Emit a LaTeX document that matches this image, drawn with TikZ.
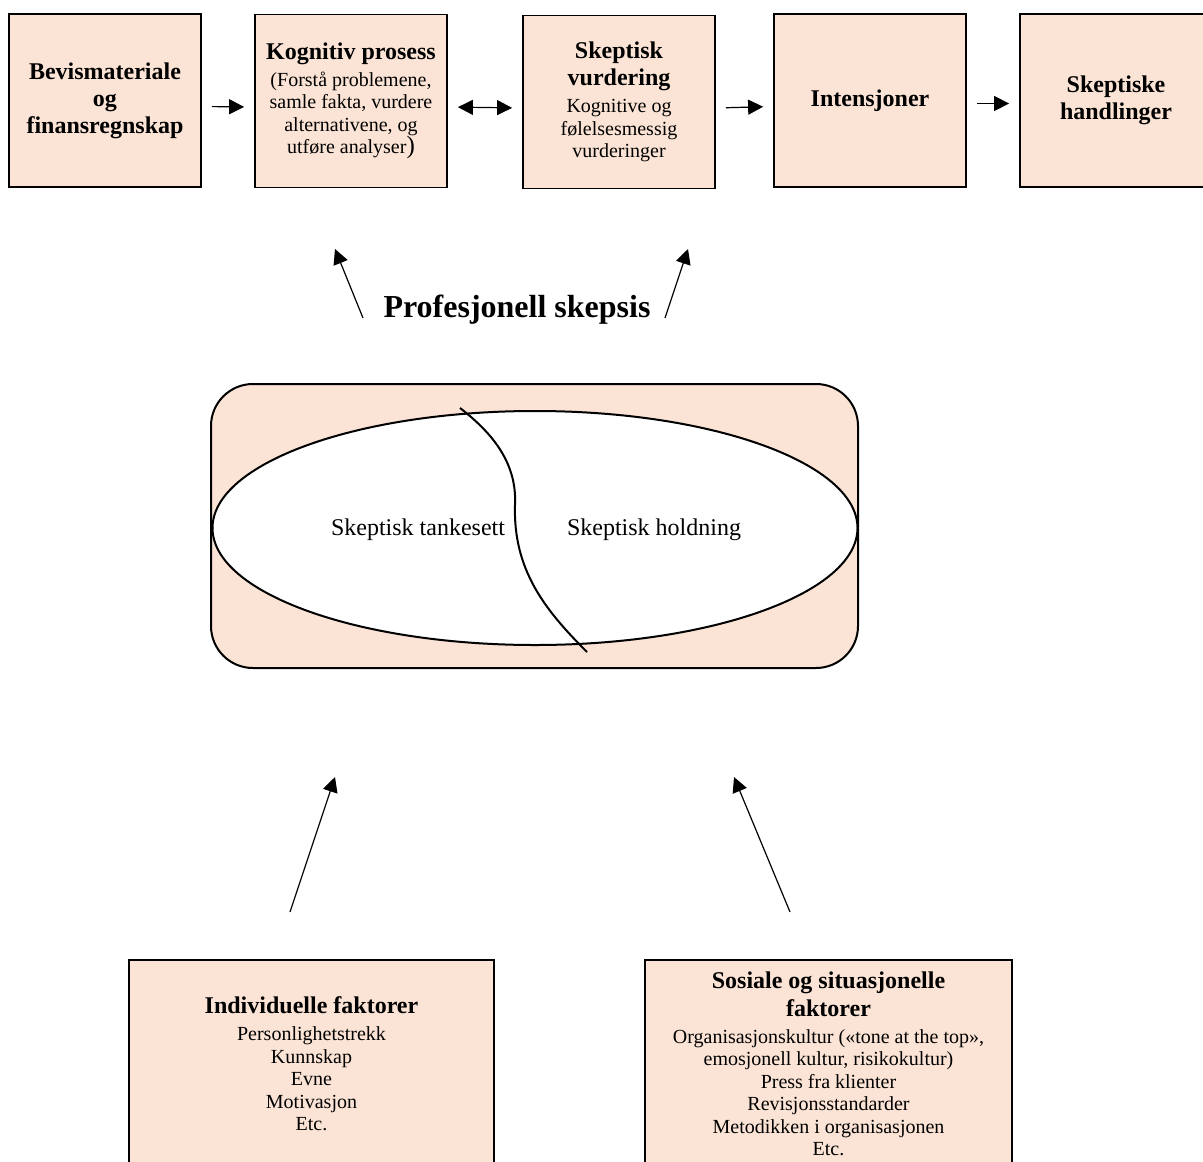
\documentclass[tikz,border=0pt]{standalone}
\usepackage{fontspec}
\setmainfont{Liberation Serif}
\usetikzlibrary{arrows.meta,shapes.geometric}
\definecolor{peach}{HTML}{FBE4D5}
\newcommand\HeadF{\fontsize{12}{13.5}\selectfont\bfseries}
\newcommand\BodyF{\fontsize{10}{11.25}\selectfont\mdseries}
\tikzset{
  box/.style={draw, line width=0.9pt, fill=peach, align=center, inner sep=0pt,
    minimum width=96pt, minimum height=86.5pt},
  botbox/.style={draw, line width=0.9pt, fill=peach, align=center, inner sep=0pt,
    minimum height=104pt, font=\BodyF},
  arr/.style={line width=0.6pt, -{Triangle[length=7.5pt,width=7.5pt]}},
  darr/.style={line width=0.6pt, {Triangle[length=7.5pt,width=7.5pt]}-{Triangle[length=7.5pt,width=7.5pt]}},
  gap/.style={shorten <=5pt, shorten >=5pt},
  plain/.style={font=\fontsize{12}{14}\selectfont}
}
\begin{document}
\begin{tikzpicture}[x=0.5pt,y=-0.5pt]
\path[use as bounding box, clip] (0,0) rectangle (1203,1161);
\fill[white] (0,0) rectangle (1203,1161);
% top row
\node[box, font=\HeadF] (b1) at (105,100.5) {Bevismateriale\\og\\finansregnskap};
\node[box, font=\BodyF] (b2) at (351,101) {\HeadF Kognitiv prosess\\[2.25pt](Forstå problemene,\\samle fakta, vurdere\\alternativene, og\\utføre analyser{\fontsize{12.5}{13}\selectfont)}};
\node[box, font=\BodyF] (b3) at (619,102) {\HeadF Skeptisk\\[2.25pt]\HeadF vurdering\\[2.25pt]Kognitive og\\følelsesmessig\\vurderinger};
\node[box, font=\HeadF] (b4) at (870,100.5) {Intensjoner};
\node[box, font=\HeadF] (b5) at (1116,100.5) {Skeptiske\\handlinger};
\draw[arr,gap] ([yshift=-3pt]b1.east) -- ([yshift=-3pt]b2.west);
\draw[darr,gap] ([yshift=-3pt]b2.east) -- ([yshift=-3pt]b3.west);
\draw[arr,gap] ([yshift=-3pt]b3.east) -- ([yshift=-3pt]b4.west);
\draw[arr,gap] ([yshift=-1.5pt]b4.east) -- ([yshift=-1.5pt]b5.west);
% title and upper arrows
\node[font=\fontsize{16}{19}\selectfont\bfseries] (ps) at (517,310) {Profesjonell skepsis};
\coordinate (la0) at (363,318);
\coordinate (la1) at (335,249);
\coordinate (ra0) at (665,318);
\coordinate (ra1) at (688,249);
\draw[arr] (la0) -- (la1);
\draw[arr] (ra0) -- (ra1);
% core
\node[draw, line width=1pt, fill=peach, rounded corners=21pt, minimum width=323.5pt,
  minimum height=142pt, inner sep=0pt] (core) at (534.5,526) {};
\node[ellipse, draw, line width=1pt, fill=white, minimum width=322.5pt,
  minimum height=117pt, inner sep=0pt] (ell) at (535,528) {};
\coordinate (c0) at (460,408);
\coordinate (c1) at (515,505);
\coordinate (c2) at (587,652);
\draw[line width=1pt] (c0) .. controls (495,435) and (517,465) .. (c1)
  .. controls (513,570) and (545,610) .. (c2);
\node[plain] (tl) at (418,530) {Skeptisk tankesett};
\node[plain] (tr) at (654,530) {Skeptisk holdning};
% lower arrows
\coordinate (lb0) at (290,912);
\coordinate (lb1) at (335,777);
\coordinate (rb0) at (790,912);
\coordinate (rb1) at (734,777);
\draw[arr] (lb0) -- (lb1);
\draw[arr] (rb0) -- (rb1);
% bottom boxes
\node[botbox, minimum width=182.5pt] (ind) at (311.5,1064) {\HeadF Individuelle faktorer\\[2.25pt]Personlighetstrekk\\Kunnskap\\Evne\\Motivasjon\\Etc.};
\node[botbox, minimum width=183.5pt] (soc) at (828.5,1064) {\HeadF Sosiale og situasjonelle\\[2.75pt]\HeadF faktorer\\[2.25pt]Organisasjonskultur («tone at the top»,\\emosjonell kultur, risikokultur)\\Press fra klienter\\Revisjonsstandarder\\Metodikken i organisasjonen\\Etc.};
\end{tikzpicture}
\end{document}
